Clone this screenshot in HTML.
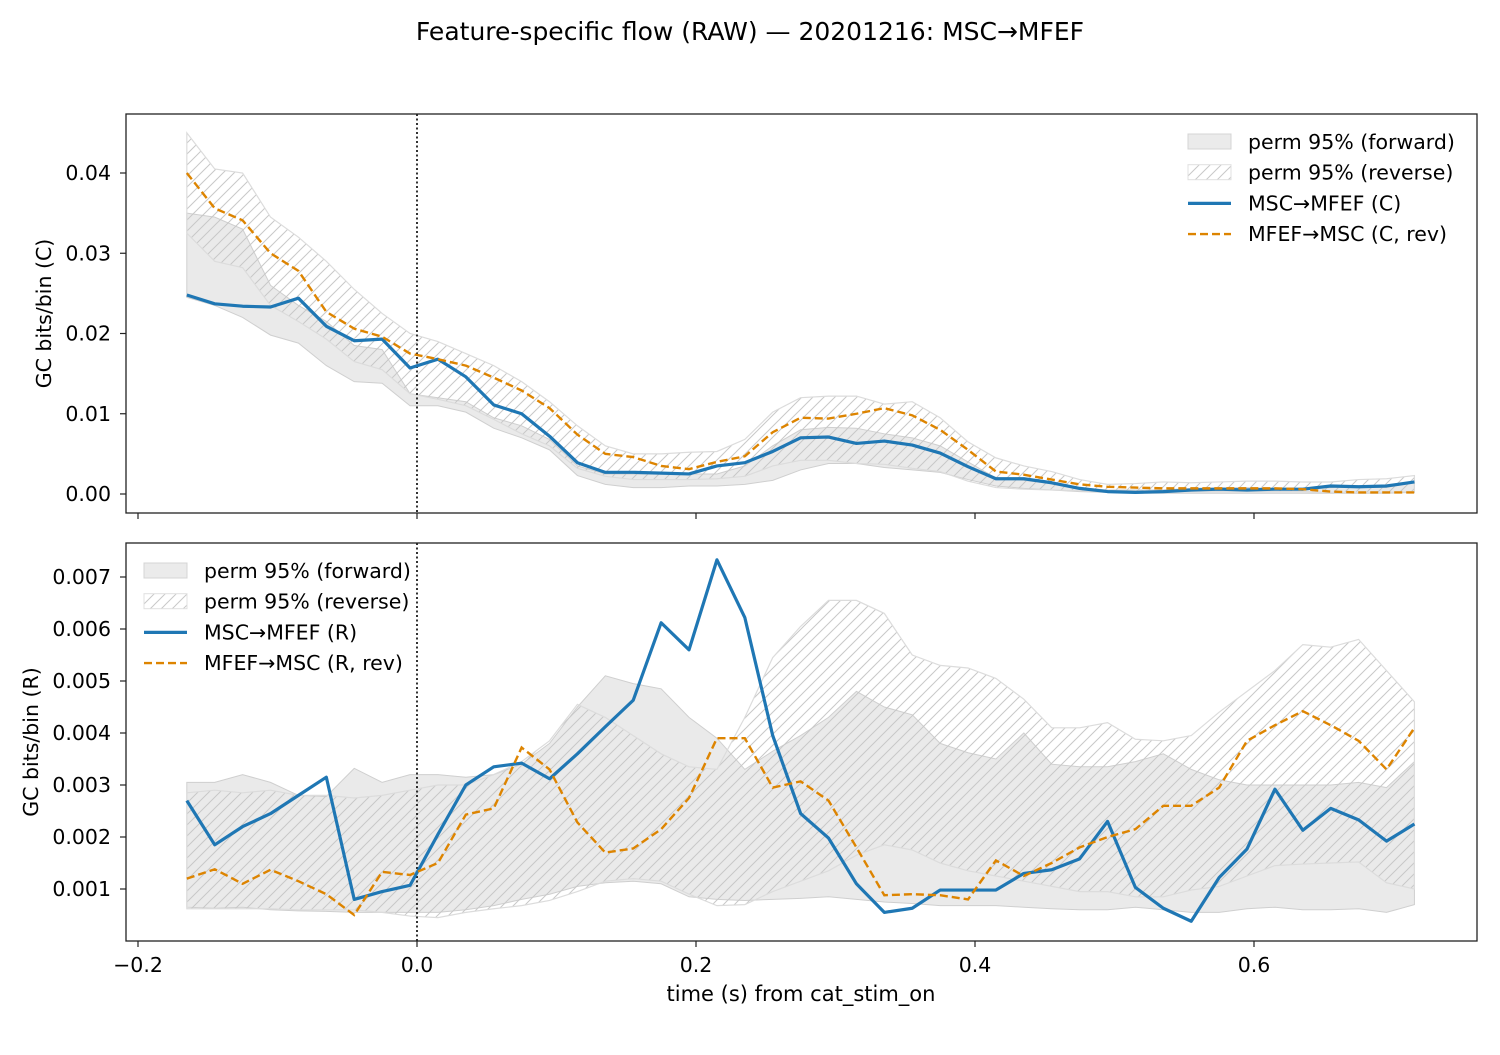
<!DOCTYPE html>
<html><head><meta charset="utf-8"><style>
body{margin:0;background:#fff;font-family:"Liberation Sans","DejaVu Sans",sans-serif}
svg text{font-family:"DejaVu Sans","Liberation Sans",sans-serif}
</style></head><body>
<svg id="fig" width="1500" height="1050" xmlns="http://www.w3.org/2000/svg">
<defs>
<pattern id="hatch" patternUnits="userSpaceOnUse" width="11" height="11">
<path d="M-2,13 L13,-2 M-2,2 L2,-2 M9,13 L13,9" stroke="#c8c8c8" stroke-width="1"/>
</pattern>
</defs>
<text x="750" y="40" text-anchor="middle" font-size="25">Feature-specific flow (RAW) — 20201216: MSC→MFEF</text>
<g id="top"></g>
<g id="bot"></g>
<text x="801" y="1001" text-anchor="middle" font-size="21">time (s) from cat_stim_on</text>
</svg>
<script>
const times = Array.from({length:45},(_,i)=>-0.165+0.02*i);
const xTicks=[-0.2,0,0.2,0.4,0.6];
const xTickLabels=["−0.2","0.0","0.2","0.4","0.6"];
const topTicks=[0,0.01,0.02,0.03,0.04];
const topTickLabels=["0.00","0.01","0.02","0.03","0.04"];
const botTicks=[0.001,0.002,0.003,0.004,0.005,0.006,0.007];
const botTickLabels=["0.001","0.002","0.003","0.004","0.005","0.006","0.007"];

const cFwd=[0.0248,0.0237,0.0234,0.0233,0.0244,0.0209,0.0191,0.0193,0.0157,0.0168,0.0146,0.0111,0.0100,0.0072,0.0039,0.0027,0.0027,0.0026,0.0025,0.0035,0.0039,0.0053,0.0070,0.0071,0.0063,0.0066,0.0061,0.0051,0.0034,0.0019,0.0019,0.0014,0.0007,0.0003,0.0002,0.0003,0.0005,0.0006,0.0005,0.0006,0.0006,0.0010,0.0009,0.0010,0.0015];
const cRev=[0.0400,0.0356,0.0341,0.0300,0.0278,0.0227,0.0206,0.0196,0.0175,0.0168,0.0160,0.0145,0.0129,0.0107,0.0074,0.0050,0.0046,0.0035,0.0031,0.0040,0.0047,0.0077,0.0095,0.0094,0.0100,0.0107,0.0098,0.0080,0.0055,0.0028,0.0024,0.0018,0.0012,0.0009,0.0008,0.0007,0.0007,0.0007,0.0007,0.0007,0.0006,0.0003,0.0002,0.0002,0.0002];
const cFwdHi=[0.035,0.0345,0.033,0.026,0.0235,0.0215,0.0185,0.018,0.0125,0.012,0.0115,0.0095,0.0085,0.0068,0.0035,0.0025,0.0025,0.0025,0.0025,0.0025,0.0035,0.006,0.008,0.0083,0.0082,0.0075,0.007,0.006,0.004,0.002,0.0017,0.0013,0.0008,0.0005,0.0005,0.0005,0.0007,0.0008,0.0008,0.0007,0.0006,0.0008,0.0009,0.0008,0.0015];
const cFwdLo=[0.0245,0.0235,0.022,0.0198,0.0188,0.016,0.014,0.0138,0.011,0.011,0.0102,0.0082,0.007,0.0055,0.0023,0.0012,0.0008,0.0008,0.001,0.001,0.0012,0.0017,0.003,0.0038,0.0038,0.0033,0.003,0.0027,0.0018,0.001,0.0007,0.0005,0.0003,0.0002,0.0001,0.0001,0.0001,0.0001,0.0001,0.0001,0.0001,0.0001,0.0001,0.0001,0.0002];
const cRevHi=[0.045,0.0405,0.04,0.0345,0.032,0.029,0.0255,0.0225,0.02,0.019,0.0175,0.016,0.014,0.0115,0.0085,0.006,0.005,0.005,0.0052,0.0053,0.0068,0.0102,0.012,0.0122,0.0122,0.0112,0.0115,0.0095,0.0065,0.0045,0.0035,0.0028,0.0018,0.0012,0.0013,0.0015,0.0014,0.0015,0.0016,0.0016,0.0015,0.0015,0.0018,0.0019,0.0023];
const cRevLo=[0.0325,0.029,0.0282,0.0235,0.0215,0.0193,0.0165,0.0155,0.0125,0.0118,0.011,0.0093,0.0075,0.006,0.0032,0.0022,0.0018,0.0018,0.0018,0.0019,0.0022,0.0035,0.0042,0.0042,0.0038,0.0037,0.0032,0.0028,0.0016,0.0008,0.0006,0.0005,0.0004,0.0003,0.0003,0.0003,0.0003,0.0003,0.0003,0.0003,0.0003,0.0002,0.0002,0.0002,0.0003];

const rFwd=[2.7,1.85,2.2,2.45,2.8,3.15,0.8,0.95,1.07,2.05,3.0,3.35,3.42,3.12,3.6,4.12,4.63,6.12,5.6,7.33,6.22,3.95,2.45,1.98,1.1,0.55,0.63,0.98,0.98,0.98,1.3,1.37,1.58,2.3,1.03,0.63,0.38,1.22,1.77,2.92,2.13,2.55,2.33,1.92,2.25];
const rRev=[1.2,1.38,1.1,1.37,1.15,0.9,0.5,1.33,1.27,1.5,2.43,2.55,3.72,3.3,2.28,1.7,1.78,2.15,2.75,3.9,3.9,2.95,3.07,2.7,1.8,0.88,0.9,0.88,0.8,1.55,1.25,1.5,1.8,2.0,2.15,2.6,2.6,2.95,3.85,4.15,4.42,4.15,3.85,3.3,4.1];
const rFwdLo=[0.65,0.63,0.65,0.6,0.58,0.57,0.55,0.55,0.55,0.55,0.6,0.68,0.8,0.9,1.05,1.12,1.15,1.1,0.85,0.8,0.78,0.8,0.82,0.85,0.8,0.75,0.72,0.68,0.68,0.68,0.65,0.62,0.6,0.6,0.65,0.6,0.55,0.55,0.62,0.65,0.6,0.6,0.62,0.55,0.7];
const rFwdHi=[3.05,3.05,3.2,3.05,2.8,2.78,3.32,3.05,3.2,3.2,3.15,3.2,3.4,3.8,4.5,5.1,4.95,4.85,4.3,3.9,3.3,3.65,3.95,4.3,4.8,4.5,4.35,3.8,3.62,3.5,4.0,3.4,3.35,3.35,3.45,3.6,3.3,3.1,3.0,3.0,3.0,3.0,3.05,2.95,3.45];
const rRevLo=[0.62,0.62,0.62,0.62,0.6,0.6,0.6,0.55,0.48,0.45,0.55,0.62,0.68,0.78,0.95,1.15,1.2,1.15,0.9,0.68,0.7,0.95,1.15,1.35,1.65,1.85,1.75,1.5,1.35,1.25,1.15,1.05,0.95,0.95,0.85,0.85,0.98,1.05,1.25,1.45,1.48,1.5,1.52,1.12,1.0];
const rRevHi=[2.85,2.9,2.85,2.9,2.8,2.8,2.75,2.8,2.9,3.0,3.0,3.2,3.45,3.85,4.55,4.3,3.95,3.6,3.35,3.3,4.3,5.45,6.05,6.55,6.55,6.3,5.5,5.3,5.25,5.05,4.65,4.1,4.1,4.2,3.88,3.85,3.95,4.4,4.8,5.2,5.7,5.65,5.8,5.2,4.6];

const NS="http://www.w3.org/2000/svg";
function mk(parent,tag,attrs,text){const e=document.createElementNS(NS,tag);for(const k in attrs)e.setAttribute(k,attrs[k]);if(text!==undefined)e.textContent=text;parent.appendChild(e);return e;}
const X=t=>417+t*1395;

function panel(g,top,bottom,Y,ticks,tickLabels,yTitle,yTitleX,series,legendX,legendY,showXLabels,scale){
  const sc=v=>v*scale;
  const bandPts=(lo,hi)=>times.map((t,i)=>X(t)+","+Y(sc(hi[i]))).concat(times.map((t,i)=>X(t)+","+Y(sc(lo[i]))).reverse()).join(" ");
  let e=mk(g,"polygon",{points:bandPts(series.fLo,series.fHi),fill:"#d9d9d9","fill-opacity":"0.55",stroke:"#cfcfcf","stroke-width":"1"});
  
  
  e=mk(g,"polygon",{points:bandPts(series.rLo,series.rHi),fill:"url(#hatch)",stroke:"#dcdcdc","stroke-width":"1.2"});
  
  
  e=mk(g,"line",{x1:X(0),x2:X(0),y1:top,y2:bottom,stroke:"#000","stroke-width":"1.6","stroke-dasharray":"2,2.5"});
  
  
  e=mk(g,"polyline",{points:times.map((t,i)=>X(t)+","+Y(sc(series.fwd[i]))).join(" "),fill:"none",stroke:"#1f77b4","stroke-width":"3.2","stroke-linejoin":"round"});
  
  
  e=mk(g,"polyline",{points:times.map((t,i)=>X(t)+","+Y(sc(series.rev[i]))).join(" "),fill:"none",stroke:"#dd8400","stroke-width":"2.4","stroke-dasharray":"8,4"});
  
  
  e=mk(g,"rect",{x:126,y:top,width:1351,height:bottom-top,fill:"none",stroke:"#222","stroke-width":"1.3"});
  
  
  ticks.forEach((v,i)=>{
    const y=Y(v);
    let l=mk(g,"line",{x1:120,x2:126,y1:y,y2:y,stroke:"#222","stroke-width":"1.2"});
    
    
    let t=mk(g,"text",{x:111,y:y+7,"text-anchor":"end","font-size":"20.5"},tickLabels[i]);
    
    
  });
  xTicks.forEach((v,i)=>{
    const x=X(v);
    let l=mk(g,"line",{x1:x,x2:x,y1:bottom,y2:bottom+6,stroke:"#222","stroke-width":"1.2"});
    
    
    if(showXLabels){
      let t=mk(g,"text",{x:x,y:bottom+16+0*0+0+0+0+0+0,"text-anchor":"middle","font-size":"20.5","dominant-baseline":"hanging"},xTickLabels[i]);
      
      
    }
  });
  const cy=(top+bottom)/2;
  let yt=mk(g,"text",{x:yTitleX,y:cy,"text-anchor":"middle","font-size":"20.5",transform:`rotate(-90 ${yTitleX} ${cy})`},yTitle);
  
  
  const lg=mk(g,"g",{});
  
  
  series.labels.forEach((lab,i)=>{
    const y=legendY+i*30.7;
    const ent=mk(lg,"g",{});
    
    
    if(i==0) mk(ent,"rect",{x:legendX,y:y-15,width:43,height:15,fill:"#ebebeb",stroke:"#d4d4d4"});
    if(i==1) mk(ent,"rect",{x:legendX,y:y-15,width:43,height:15,fill:"url(#hatch)",stroke:"#e0e0e0"});
    if(i==2) mk(ent,"line",{x1:legendX,x2:legendX+43,y1:y-7,y2:y-7,stroke:"#1f77b4","stroke-width":"3.2"});
    if(i==3) mk(ent,"line",{x1:legendX,x2:legendX+43,y1:y-7,y2:y-7,stroke:"#dd8400","stroke-width":"2.4","stroke-dasharray":"8,4"});
    mk(ent,"text",{x:legendX+60,y:y,"font-size":"20.5"},lab);
  });
}
panel(document.getElementById("top"),114,513,v=>494-v*8025,topTicks,topTickLabels,"GC bits/bin (C)",51,
  {fwd:cFwd,rev:cRev,fLo:cFwdLo,fHi:cFwdHi,rLo:cRevLo,rHi:cRevHi,labels:["perm 95% (forward)","perm 95% (reverse)","MSC→MFEF (C)","MFEF→MSC (C, rev)"]},1188,149,false,1);
panel(document.getElementById("bot"),543,941,v=>889-(v-0.001)*52000,botTicks,botTickLabels,"GC bits/bin (R)",38,
  {fwd:rFwd,rev:rRev,fLo:rFwdLo,fHi:rFwdHi,rLo:rRevLo,rHi:rRevHi,labels:["perm 95% (forward)","perm 95% (reverse)","MSC→MFEF (R)","MFEF→MSC (R, rev)"]},144,578,true,0.001);
</script>
</body></html>
